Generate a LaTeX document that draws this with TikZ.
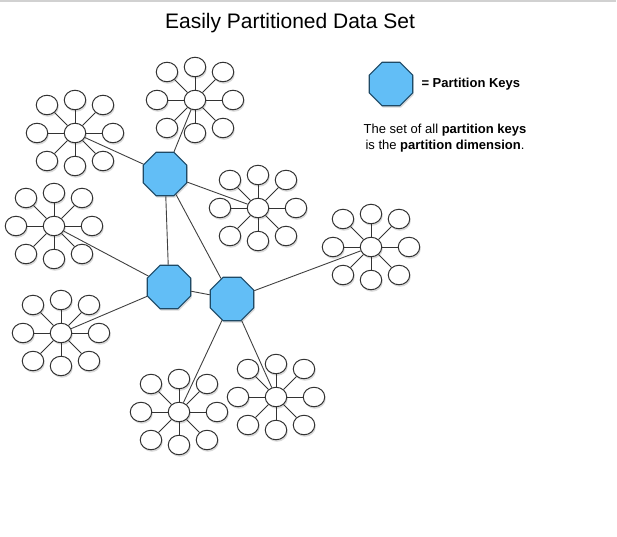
\documentclass[tikz,border=0pt]{standalone}
\usepackage{fontspec}
\setmainfont{Liberation Sans}
\usetikzlibrary{shapes.geometric, shadows, positioning}

\definecolor{keyblue}{HTML}{62BEF6}
\definecolor{keyedge}{HTML}{1E4A66}

\tikzset{
  leaf/.style={ellipse, draw=black!80, fill=white, line width=1pt,
    minimum width=21.5pt, minimum height=19.5pt, inner sep=0pt,
    drop shadow={opacity=0.3, shadow xshift=1pt, shadow yshift=-2pt}},
  hub/.style={leaf},
  key/.style={regular polygon, regular polygon sides=8, minimum size=47pt,
    inner sep=0pt, draw=keyedge, fill=keyblue, line width=1.1pt,
    drop shadow={opacity=0.3, shadow xshift=1pt, shadow yshift=-2pt}},
  spoke/.style={draw=black!80, line width=1pt},
  link/.style={draw=black!75, line width=0.9pt}
}

\begin{document}
\begin{tikzpicture}[x=1pt, y=-1pt]
      \useasboundingbox (0,0) rectangle (617,536);
      \draw[black!18, line width=2pt] (0,1) -- (616,1);

      \node (title) at (290,23) {\fontsize{21}{24}\selectfont Easily Partitioned Data Set};

      % data stars
      \foreach \s/\x/\y in {a/75/133, b/54/226, c/195/100, d/258/208,
                            e/371/247, f/61/333, g/179/412, h/276/397} {
        \node[hub] (\s) at (\x,\y) {};
        \foreach \i/\dx/\dy in {1/38/0, 2/28/-28, 3/0/-33, 4/-28/-28,
                                5/-38/0, 6/-28/28, 7/0/33, 8/28/28} {
          \node[leaf] (\s\i) at ([shift={(\dx,\dy)}]\s.center) {};
          \draw[spoke] (\s) -- (\s\i);
        }
      }

      % partition keys
      \node[key] (k1) at (165,174) {};
      \node[key] (k2) at (169,287) {};
      \node[key] (k3) at (232,299) {};

      \draw[link] (k1) -- (a);
      \draw[link] (k1) -- (c);
      \draw[link] (k1) -- (d);
      \draw[link] (k1) -- (k2);
      \draw[link] (k1) -- (k3);
      \draw[link] (k2) -- (b);
      \draw[link] (k2) -- (f);
      \draw[link] (k2) -- (k3);
      \draw[link] (k3) -- (e);
      \draw[link] (k3) -- (g);
      \draw[link] (k3) -- (h);

      % legend
      \node[key] (legendkey) at (391,84) {};
      \node[anchor=west, font=\fontsize{13}{15}\selectfont\bfseries] (legendtext)
        at (418,84) {= Partition Keys};
      \node[align=center, font=\fontsize{13}{16}\selectfont] (note) at (445,138)
        {The set of all \textbf{partition keys}\\is the \textbf{partition dimension}.};
    \end{tikzpicture}
\end{document}
